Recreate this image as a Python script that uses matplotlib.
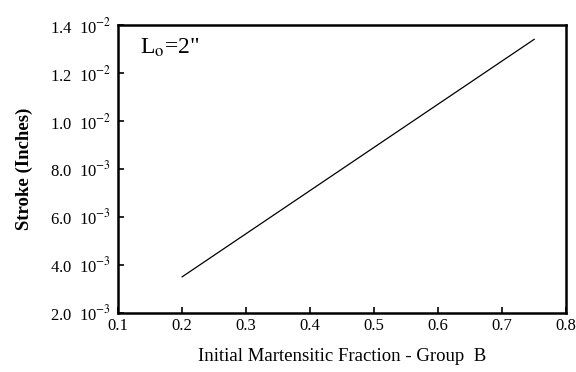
import matplotlib.pyplot as plt

plt.rcParams['font.family'] = ['Liberation Serif', 'DejaVu Serif']
plt.rcParams['mathtext.fontset'] = 'stix'

# data
frac = [0.2, 0.75]
stroke = [3.5e-3, 13.4e-3]

xticks = [0.1, 0.2, 0.3, 0.4, 0.5, 0.6, 0.7, 0.8]
yticks = [2.0e-3, 4.0e-3, 6.0e-3, 8.0e-3, 1.0e-2, 1.2e-2, 1.4e-2]
ylabels = ['2.0  10$^{-3}$', '4.0  10$^{-3}$', '6.0  10$^{-3}$', '8.0  10$^{-3}$',
           '1.0  10$^{-2}$', '1.2  10$^{-2}$', '1.4  10$^{-2}$']

fig = plt.figure(figsize=(5.76, 3.72), dpi=100)
ax = fig.add_axes([0.205, 0.159, 0.778, 0.774])
ax.plot(frac, stroke, 'k-', lw=0.9)

ax.set_xlim(0.1, 0.8)
ax.set_ylim(2.0e-3, 1.4e-2)
ax.set_xticks(xticks)
ax.set_xticklabels(['%.1f' % v for v in xticks])
ax.set_yticks(yticks)
ax.set_yticklabels(ylabels)
ax.tick_params(direction='in', length=4, width=1.2, labelsize=12)
ax.tick_params(axis='x', pad=4)
ax.tick_params(axis='y', pad=5)
for s in ax.spines.values():
    s.set_linewidth(1.8)

ax.text(0.05, 0.96, 'L$_{\\mathrm{o}}$=2"', transform=ax.transAxes,
        fontsize=17, va='top')

ax.set_xlabel('Initial Martensitic Fraction - Group  B', fontsize=13.5, labelpad=10)
ax.set_ylabel('Stroke (Inches)', fontsize=13.5, fontweight='bold', labelpad=12)

fig.savefig('out.png', dpi=100)
